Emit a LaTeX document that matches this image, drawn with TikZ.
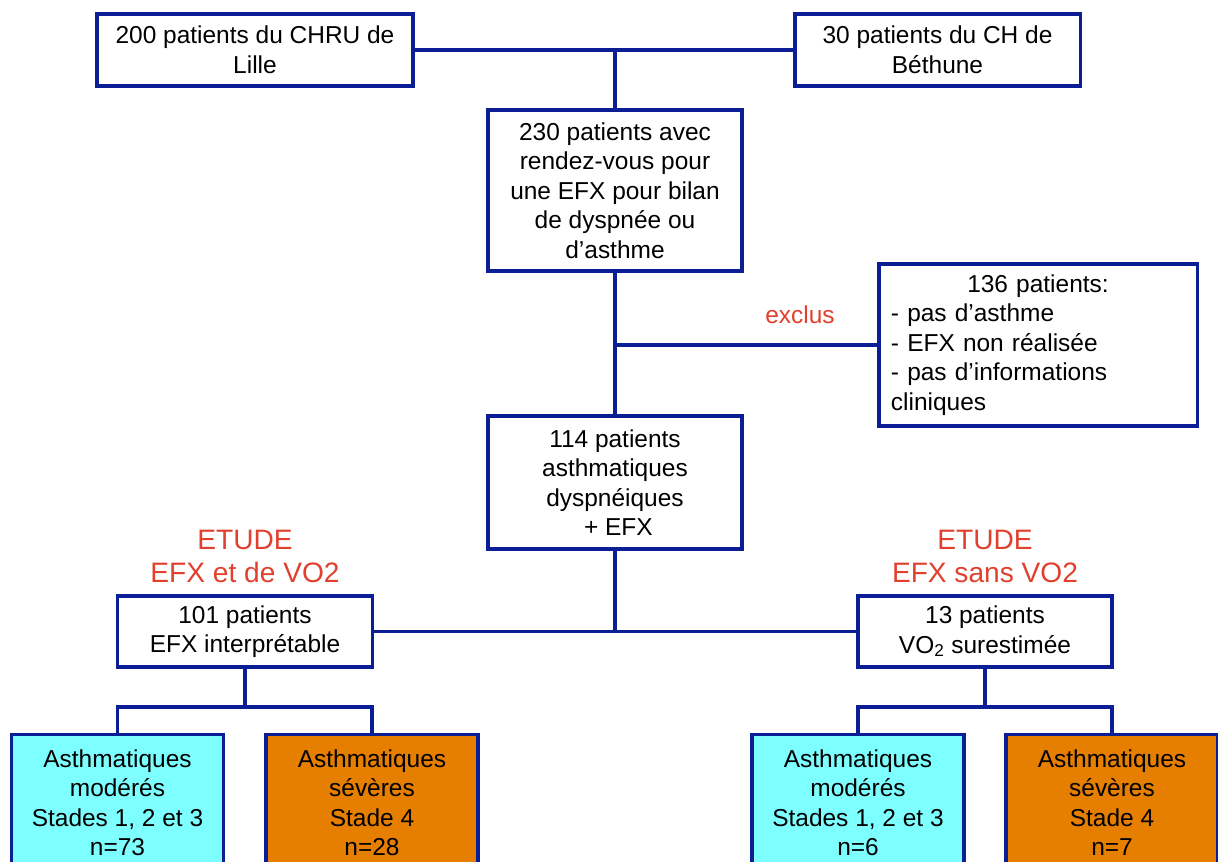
\documentclass[tikz,border=0pt]{standalone}
\usepackage{fontspec}
\setmainfont{Liberation Sans}
\usepackage{tikz}
\usetikzlibrary{positioning}
\definecolor{bleu}{RGB}{12,30,150}
\definecolor{cyanbox}{RGB}{125,255,255}
\definecolor{orangebox}{RGB}{230,126,0}
\definecolor{rouge}{RGB}{226,64,46}
\newcommand{\txt}{\fontsize{17.4pt}{21pt}\selectfont}
\newcommand{\ttl}{\fontsize{20pt}{23.5pt}\selectfont}

\begin{document}
\begin{tikzpicture}[x=0.025cm, y=-0.025cm,
  box/.style={draw=bleu, line width=2.2pt, fill=white, align=center, font=\txt,
              inner sep=0pt},
  leaf/.style={box, anchor=north, minimum width=5.3cm, minimum height=3.4cm},
  titre/.style={align=center, font=\ttl, text=rouge},
  lien/.style={draw=bleu, line width=2.2pt}]
\useasboundingbox (0,0) rectangle (1218,862);
% sources
\node[box, minimum width=7.9cm, minimum height=1.8cm] (lille) at (255,50) {200 patients du CHRU de\\ Lille};
\node[box, minimum width=7.125cm, minimum height=1.8cm] (bethune) at (937.5,50) {30 patients du CH de\\ Béthune};
\node[box, minimum width=6.35cm, minimum height=4.025cm] (rdv) at (615,190.5) {230 patients avec\\ rendez-vous pour\\ une EFX pour bilan\\ de dyspnée ou\\ d’asthme};
% exclusion
\node[box, minimum width=7.95cm, minimum height=4.05cm, text width=7.35cm, align=left] (excl) at (1038,345)
  {\makebox[\linewidth]{136 patients:}\\ - pas d’asthme\\ - EFX non réalisée\\ - pas d’informations\\ cliniques};
\node[font=\txt, text=rouge] (exclus) at (800,315) {exclus};
\node[box, minimum width=6.35cm, minimum height=3.325cm] (asth) at (615,482.5) {114 patients\\ asthmatiques\\ dyspnéiques\\ \ + EFX};
% etudes
\node[box, minimum width=6.375cm, minimum height=1.775cm] (vo2l) at (245,631.5) {101 patients\\ EFX interprétable};
\node[box, minimum width=6.35cm, minimum height=1.775cm] (vo2r) at (985,631.5) {13 patients\\ VO\textsubscript{2} surestimée};
\node[titre] (etl) at (245,556) {ETUDE\\ EFX et de VO2};
\node[titre] (etr) at (985,556) {ETUDE\\ EFX sans VO2};
% stades
\node[leaf, fill=cyanbox] (modl) at (117.5,733) {Asthmatiques\\ modérés\\ Stades 1, 2 et 3\\ n=73};
\node[leaf, fill=orangebox] (sevl) at (372,733) {Asthmatiques\\ sévères\\ Stade 4\\ n=28};
\node[leaf, fill=cyanbox] (modr) at (858,733) {Asthmatiques\\ modérés\\ Stades 1, 2 et 3\\ n=6};
\node[leaf, fill=orangebox] (sevr) at (1112,733) {Asthmatiques\\ sévères\\ Stade 4\\ n=7};
\coordinate (splitl) at (245,707);
\coordinate (splitr) at (985,707);
% liens
\draw[lien] (lille.east) -- (bethune.west);
\draw[lien] (rdv.north) -- (rdv.north |- lille.east);
\draw[lien] (rdv.south) -- (asth.north);
\draw[lien] (rdv.south |- excl.west) -- (excl.west);
\draw[lien] (asth.south) -- (asth.south |- vo2l.east);
\draw[lien] (vo2l.east) -- (vo2r.west);
\draw[lien] (vo2l.south) -- (splitl);
\draw[lien] (modl.north) |- (splitl) -| (sevl.north);
\draw[lien] (vo2r.south) -- (splitr);
\draw[lien] (modr.north) |- (splitr) -| (sevr.north);
\end{tikzpicture}
\end{document}
